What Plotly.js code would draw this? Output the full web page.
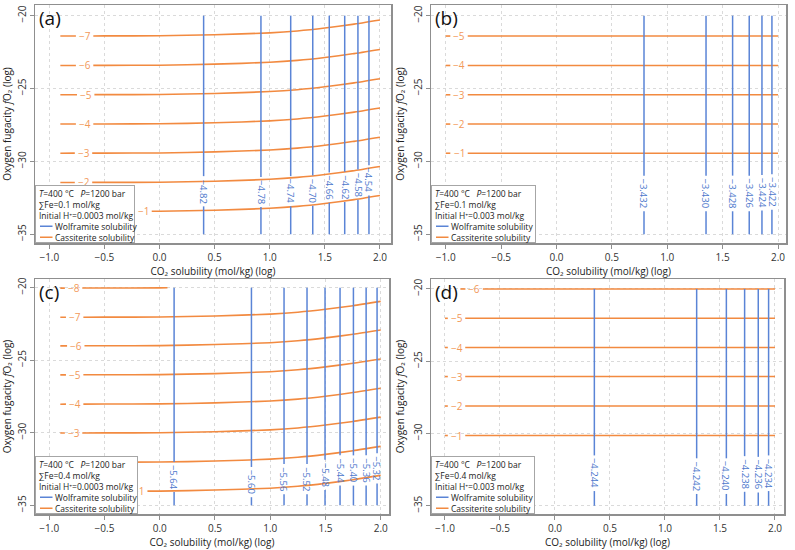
<!DOCTYPE html>
<html>
<head>
<meta charset="utf-8">
<script src="https://cdn.plot.ly/plotly-3.0.1.min.js"></script>
<style>html,body{margin:0;padding:0;background:#fff;}</style>
</head>
<body>
<div id="chart" style="width:795px;height:550px;"></div>
<script>
// ---------------- DATA ----------------
// shared x grid of the cassiterite iso-solubility curves (log CO2)
const cassX = [-0.9, -0.5, 0.0, 0.5, 1.0, 1.25, 1.5, 1.75, 2.0];
const wolfYSpan = [-20, -35];

// Panel (a): ΣFe=0.1, H+=0.0003
const cassLevelsA = [-7, -6, -5, -4, -3, -2, -1];
const cassA = [
  [-21.40, -21.39, -21.38, -21.31, -21.18, -21.05, -20.85, -20.60, -20.30],
  [-23.42, -23.41, -23.40, -23.33, -23.20, -23.07, -22.87, -22.62, -22.32],
  [-25.43, -25.42, -25.41, -25.34, -25.21, -25.08, -24.88, -24.63, -24.33],
  [-27.44, -27.43, -27.42, -27.35, -27.22, -27.09, -26.89, -26.64, -26.34],
  [-29.44, -29.43, -29.42, -29.35, -29.22, -29.09, -28.89, -28.64, -28.34],
  [-31.45, -31.44, -31.43, -31.36, -31.23, -31.10, -30.90, -30.65, -30.35],
  [-33.44, -33.43, -33.42, -33.35, -33.22, -33.09, -32.89, -32.64, -32.34]
];
const cassLabelXA = [-0.68, -0.68, -0.67, -0.68, -0.69, -0.69, -0.15];
const wolfXA = [0.40, 0.92, 1.19, 1.39, 1.54, 1.68, 1.80, 1.90];
const wolfLevelsA = [-4.82, -4.78, -4.74, -4.70, -4.66, -4.62, -4.58, -4.54];
const wolfLabelYA = [-32.05, -32.1, -32.05, -32.0, -31.8, -31.75, -31.6, -31.3];

// Panel (b): ΣFe=0.1, H+=0.003
const cassLevelsB = [-5, -4, -3, -2, -1];
const cassB = [-21.40, -23.42, -25.43, -27.44, -29.44];
const cassStartB = [-1.0, -1.0, -1.0, -1.0, -1.0];
const cassLabelXB = [-0.88, -0.88, -0.88, -0.88, -0.88];
const wolfXB = [0.79, 1.35, 1.59, 1.74, 1.855, 1.945];
const wolfLevelsB = [-3.432, -3.430, -3.428, -3.426, -3.424, -3.422];
const wolfLabelYB = [-32.2, -32.2, -32.2, -32.2, -32.15, -32.1];

// Panel (c): ΣFe=0.4, H+=0.0003
const cassLevelsC = [-8, -7, -6, -5, -4, -3, -2, -1];
const cassXC8 = [-0.9, -0.5, 0.0, 0.07];
const cassC8 = [-20.03, -20.02, -20.01, -20.0];
const cassC = [
  [-22.04, -22.03, -22.02, -21.95, -21.82, -21.69, -21.49, -21.24, -20.94],
  [-24.01, -24.00, -23.99, -23.92, -23.79, -23.66, -23.46, -23.21, -22.91],
  [-26.01, -26.00, -25.99, -25.92, -25.79, -25.66, -25.46, -25.21, -24.91],
  [-28.03, -28.02, -28.01, -27.94, -27.81, -27.68, -27.48, -27.23, -26.93],
  [-30.02, -30.01, -30.00, -29.93, -29.80, -29.67, -29.47, -29.22, -28.92],
  [-32.04, -32.03, -32.02, -31.95, -31.82, -31.69, -31.49, -31.24, -30.94],
  [-34.04, -34.03, -34.02, -33.95, -33.82, -33.69, -33.49, -33.24, -32.94]
];
// label of the -2 curve lies under the legend box (not visible), so none
const cassLabelXC = [-0.78, -0.77, -0.76, -0.77, -0.77, -0.78, null, -0.19];
const wolfXC = [0.13, 0.83, 1.125, 1.333, 1.496, 1.632, 1.753, 1.868, 1.967];
const wolfLevelsC = [-5.64, -5.60, -5.56, -5.52, -5.48, -5.44, -5.40, -5.36, -5.32];
const wolfLabelYC = [-33.05, -33.4, -33.2, -33.2, -32.9, -32.6, -32.6, -32.6, -32.45];

// Panel (d): ΣFe=0.4, H+=0.003
const cassLevelsD = [-6, -5, -4, -3, -2, -1];
const cassD = [-20.0, -22.03, -24.05, -26.06, -28.10, -30.14];
const cassStartD = [-0.86, -1.0, -1.0, -1.0, -1.0, -1.0];
const cassLabelXD = [-0.735, -0.895, -0.895, -0.895, -0.895, -0.895];
const wolfXD = [0.358, 1.288, 1.558, 1.724, 1.848, 1.942];
const wolfLevelsD = [-4.244, -4.242, -4.240, -4.238, -4.236, -4.234];
const wolfLabelYD = [-32.75, -32.95, -32.95, -32.8, -32.85, -32.75];

// legend texts
const legendLinesA = ['<i>T</i>=400 °C   <i>P</i>=1200 bar', '∑Fe=0.1 mol/kg', 'Initial H⁺=0.0003 mol/kg'];
const legendLinesB = ['<i>T</i>=400 °C   <i>P</i>=1200 bar', '∑Fe=0.1 mol/kg', 'Initial H⁺=0.003 mol/kg'];
const legendLinesC = ['<i>T</i>=400 °C   <i>P</i>=1200 bar', '∑Fe=0.4 mol/kg', 'Initial H⁺=0.0003 mol/kg'];
const legendLinesD = ['<i>T</i>=400 °C   <i>P</i>=1200 bar', '∑Fe=0.4 mol/kg', 'Initial H⁺=0.003 mol/kg'];
const seriesNames = ['Wolframite solubility', 'Cassiterite solubility'];

// ---------------- STYLE ----------------
const BLUE = '#5a84d6', BLUE_TXT = '#4d78cc';
const ORANGE = '#f28a40', ORANGE_TXT = '#f2995a';
const FONT = 'Open Sans, Noto Sans, sans-serif';
const LABEL_FS = 9.5;
const LEG_FS = 8.5;
const W = 795, H = 550;

function fmt(v, d) { return (v < 0 ? '−' : '') + Math.abs(v).toFixed(d); }
function textLenPx(s, fs) { let n = 0; for (const ch of s) n += (ch === '.') ? 0.27 : 0.57; return n * fs; }
function interp(xs, ys, x) {
  if (x <= xs[0]) return ys[0];
  for (let i = 1; i < xs.length; i++) {
    if (x <= xs[i]) { const t = (x - xs[i-1]) / (xs[i] - xs[i-1]); return ys[i-1] + t * (ys[i] - ys[i-1]); }
  }
  return ys[ys.length - 1];
}
// split a polyline with a gap [g0, g1] in x (for the inline contour label)
function withGap(xs, ys, g0, g1) {
  const ox = [], oy = [];
  if (g1 <= xs[0] || g0 >= xs[xs.length - 1]) return {x: xs.slice(), y: ys.slice()};
  for (let i = 0; i < xs.length; i++) if (xs[i] < g0) { ox.push(xs[i]); oy.push(ys[i]); }
  if (g0 > xs[0]) { ox.push(g0); oy.push(interp(xs, ys, g0)); }
  ox.push(null); oy.push(null);
  ox.push(g1); oy.push(interp(xs, ys, g1));
  for (let i = 0; i < xs.length; i++) if (xs[i] > g1) { ox.push(xs[i]); oy.push(ys[i]); }
  return {x: ox, y: oy};
}

// ---------------- AXES ----------------
function xAxis(domain, range, anchor) {
  return {domain: domain, range: range, anchor: anchor, tick0: -1, dtick: 0.5, tickformat: '.1f',
    showline: true, mirror: true, linecolor: '#8f8f8f', linewidth: 1.5, ticks: 'outside', ticklen: 4, tickcolor: '#8f8f8f',
    showgrid: true, gridcolor: '#dadada', griddash: 'dot', gridwidth: 1, zeroline: false, automargin: false,
    tickfont: {family: FONT, size: 10, color: '#333'},
    title: {text: 'CO₂ solubility (mol/kg) (log)', font: {family: FONT, size: 10, color: '#222'}, standoff: 4}};
}
function yAxis(domain, range, anchor) {
  return {domain: domain, range: range, anchor: anchor, tick0: -20, dtick: 5, tickangle: -90,
    showline: true, mirror: true, linecolor: '#8f8f8f', linewidth: 1.5, ticks: 'outside', ticklen: 4, tickcolor: '#8f8f8f',
    showgrid: true, gridcolor: '#dadada', griddash: 'dot', gridwidth: 1, zeroline: false, automargin: false,
    tickfont: {family: FONT, size: 10, color: '#333'},
    title: {text: 'Oxygen fugacity <i>f</i>O₂ (log)', font: {family: FONT, size: 10, color: '#222'}, standoff: 4}};
}

const layout = {
  width: W, height: H,
  margin: {l: 0, r: 0, t: 0, b: 0},
  paper_bgcolor: '#ffffff', plot_bgcolor: '#ffffff',
  font: {family: FONT, size: 10, color: '#222'},
  showlegend: false,
  xaxis:  xAxis([35/795, 391/795], [-1.13, 2.10], 'y'),
  yaxis:  yAxis([1 - 243/550, 1 - 5/550], [-35.6, -19.27], 'x'),
  xaxis2: xAxis([431/795, 786/795], [-1.133, 2.072], 'y2'),
  yaxis2: yAxis([1 - 243/550, 1 - 5/550], [-35.6, -19.27], 'x2'),
  xaxis3: xAxis([35/795, 389/795], [-1.129, 2.075], 'y3'),
  yaxis3: yAxis([1 - 514/550, 1 - 279/550], [-35.6, -19.4], 'x3'),
  xaxis4: xAxis([431/795, 784/795], [-1.127, 2.082], 'y4'),
  yaxis4: yAxis([1 - 514/550, 1 - 279/550], [-35.57, -19.31], 'x4')
};

function axKey(ref, letter) { return letter + 'axis' + ref.slice(1); }
function pxPerUnit(ax, size) { return (ax.domain[1] - ax.domain[0]) * size / Math.abs(ax.range[1] - ax.range[0]); }

const traces = [];
const annotations = [];

function buildPanel(p) {
  const xa = p.xa, ya = p.ya;
  const xAx = layout[axKey(xa, 'x')], yAx = layout[axKey(ya, 'y')];
  const kx = pxPerUnit(xAx, W), ky = pxPerUnit(yAx, H);
  // cassiterite curves, broken where their label sits
  p.curves.forEach((c, i) => {
    const lx = p.cassLabelX[i];
    let seg = {x: c.x, y: c.y};
    if (lx !== null) {
      const half = (textLenPx(fmt(p.cassLevels[i], 0), 10) / 2 + 3) / kx;
      seg = withGap(c.x, c.y, lx - half, lx + half);
    }
    traces.push({type: 'scatter', mode: 'lines', x: seg.x, y: seg.y, xaxis: xa, yaxis: ya,
      line: {color: ORANGE, width: 1.6, shape: 'spline', smoothing: 0.6},
      showlegend: false, hoverinfo: 'skip'});
  });
  // wolframite verticals, broken where their label sits
  p.wolfX.forEach((x, i) => {
    const half = (textLenPx(fmt(p.wolfLevels[i], p.dec), LABEL_FS) / 2 + 3) / ky;
    const ly = p.wolfLabelY[i];
    traces.push({type: 'scatter', mode: 'lines', x: [x, x, null, x, x],
      y: [wolfYSpan[0], ly + half, null, ly - half, wolfYSpan[1]], xaxis: xa, yaxis: ya,
      line: {color: BLUE, width: 1.5}, showlegend: false, hoverinfo: 'skip'});
  });
  // cassiterite labels
  p.curves.forEach((c, i) => {
    const lx = p.cassLabelX[i];
    if (lx === null) return;
    annotations.push({xref: xa, yref: ya, x: lx, y: interp(c.x, c.y, lx), text: fmt(p.cassLevels[i], 0),
      showarrow: false, font: {family: FONT, size: 10, color: ORANGE_TXT}, borderpad: 0});
  });
  // wolframite labels (rotated)
  p.wolfX.forEach((x, i) => {
    annotations.push({xref: xa, yref: ya, x: x, y: p.wolfLabelY[i], text: fmt(p.wolfLevels[i], p.dec),
      textangle: 90, showarrow: false, font: {family: FONT, size: LABEL_FS, color: BLUE_TXT}, borderpad: 0});
  });
  // legend box
  const xd = xa + ' domain', yd = ya + ' domain';
  annotations.push({xref: xd, yref: yd, x: 0, y: 0, xanchor: 'left', yanchor: 'bottom', text: ' ',
    width: p.legW, height: p.legH, bgcolor: '#ffffff', bordercolor: '#a6a6a6', borderwidth: 1, borderpad: 0, showarrow: false});
  const shifts = [49.6, 38.7, 27.8];
  p.legLines.forEach((t, i) => {
    annotations.push({xref: xd, yref: yd, x: 0, y: 0, xanchor: 'left', yanchor: 'middle', xshift: 3, yshift: shifts[i],
      text: t, showarrow: false, borderpad: 0, font: {family: FONT, size: LEG_FS, color: '#222'}});
  });
  const entryShift = [16.8, 5.8];
  const entryCol = [BLUE, ORANGE];
  seriesNames.forEach((t, i) => {
    annotations.push({xref: xd, yref: yd, x: 0, y: 0, xanchor: 'left', yanchor: 'middle', xshift: 19, yshift: entryShift[i],
      text: t, showarrow: false, borderpad: 0, font: {family: FONT, size: LEG_FS, color: '#222'}});
    annotations.push({xref: xd, yref: yd, x: 0, y: 0, xshift: 17.5, yshift: entryShift[i], text: '',
      showarrow: true, arrowhead: 0, arrowwidth: 1.5, arrowcolor: entryCol[i], ax: -14, ay: 0, standoff: 0, startstandoff: 0});
  });
  // panel letter
  annotations.push({xref: xd, yref: yd, x: 0, y: 1, xanchor: 'left', yanchor: 'top', xshift: 2, yshift: 2,
    text: p.letter, showarrow: false, font: {family: FONT, size: 19, color: '#111'}});
}

buildPanel({xa: 'x', ya: 'y', letter: '(a)', dec: 2,
  curves: cassA.map(y => ({x: cassX, y: y})), cassLevels: cassLevelsA, cassLabelX: cassLabelXA,
  wolfX: wolfXA, wolfLevels: wolfLevelsA, wolfLabelY: wolfLabelYA, legW: 98, legH: 56, legLines: legendLinesA});
buildPanel({xa: 'x2', ya: 'y2', letter: '(b)', dec: 3,
  curves: cassB.map((v, i) => ({x: [cassStartB[i], 2.0], y: [v, v]})), cassLevels: cassLevelsB, cassLabelX: cassLabelXB,
  wolfX: wolfXB, wolfLevels: wolfLevelsB, wolfLabelY: wolfLabelYB, legW: 103, legH: 56, legLines: legendLinesB});
buildPanel({xa: 'x3', ya: 'y3', letter: '(c)', dec: 2,
  curves: [{x: cassXC8, y: cassC8}].concat(cassC.map(y => ({x: cassX, y: y}))), cassLevels: cassLevelsC, cassLabelX: cassLabelXC,
  wolfX: wolfXC, wolfLevels: wolfLevelsC, wolfLabelY: wolfLabelYC, legW: 101, legH: 56, legLines: legendLinesC});
buildPanel({xa: 'x4', ya: 'y4', letter: '(d)', dec: 3,
  curves: cassD.map((v, i) => ({x: [cassStartD[i], 2.0], y: [v, v]})), cassLevels: cassLevelsD, cassLabelX: cassLabelXD,
  wolfX: wolfXD, wolfLevels: wolfLevelsD, wolfLabelY: wolfLabelYD, legW: 102, legH: 56, legLines: legendLinesD});

layout.annotations = annotations;
Plotly.newPlot('chart', traces, layout, {staticPlot: true, displayModeBar: false});
</script>
</body>
</html>
